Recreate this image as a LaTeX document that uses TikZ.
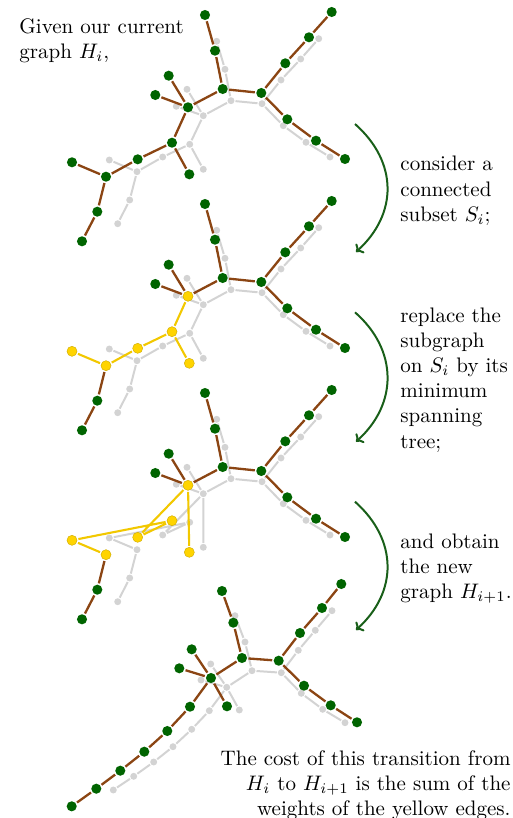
\documentclass[tikz,border=0pt]{standalone}
\usetikzlibrary{arrows.meta}
\definecolor{dgreen}{RGB}{0,100,0}
\definecolor{ebrown}{RGB}{139,69,19}
\definecolor{lgray}{RGB}{211,211,211}
\definecolor{gold}{RGB}{255,212,0}
\definecolor{goldedge}{RGB}{242,200,0}
\definecolor{arrgreen}{RGB}{25,95,25}
\pgfdeclarelayer{bg}
\pgfsetlayers{bg,main}
\tikzset{
 gn/.style={circle,fill=lgray,inner sep=0pt,minimum size=3.3pt,outer sep=0.5pt},
 vn/.style={circle,fill=dgreen,inner sep=0pt,minimum size=4.8pt,outer sep=0.7pt},
 yn/.style={circle,fill=gold,draw=goldedge!85!black,line width=0.2pt,inner sep=0pt,minimum size=4.8pt,outer sep=0.7pt},
 ge/.style={draw=lgray,line width=0.95pt},
 be/.style={draw=ebrown,line width=1.1pt},
 ye/.style={draw=goldedge,line width=1.0pt},
 flow/.style={draw=arrgreen,line width=0.95pt,-{Computer Modern Rightarrow[length=3pt,width=6pt]}},
 txt/.style={inner sep=0pt,align=left},
}
\newcommand\panelbase[1]{%
 \begin{pgfonlayer}{bg}
  \node[gn] (g1) at (216.7,41.3) {};
  \node[gn] (g2) at (225,69.3) {};
  \node[gn] (g3) at (231,100.7) {};
  \node[gn] (g4) at (262,103.7) {};
  \node[gn] (g5) at (281,80) {};
  \node[gn] (g6) at (300.7,59) {};
  \node[gn] (g7) at (318.7,38.7) {};
  \node[gn] (g8) at (283.3,125.7) {};
  \node[gn] (g9) at (306,142.3) {};
  \node[gn] (g10) at (330,157) {};
  \node[gn] (g11) at (187,89.3) {};
  \node[gn] (g12) at (176.3,106.3) {};
  \node[gn] (g13) at (203.3,115.7) {};
  \node[gn] (g14) at (189.7,144.3) {};
  \node[gn] (g15) at (203.3,169.3) {};
  \node[gn] (g16) at (162.7,157) {};
  \node[gn] (g17) at (137,171.7) {};
  \node[gn] (g18) at (109.3,160) {};
  \node[gn] (g19) at (129.7,200) {};
  \node[gn] (g20) at (117.7,223.7) {};
  \path[ge] (g1)--(g2) (g2)--(g3) (g3)--(g4) (g4)--(g5) (g5)--(g6) (g6)--(g7)
   (g4)--(g8) (g8)--(g9) (g9)--(g10) (g3)--(g13) (g11)--(g13) (g12)--(g13)
   (g17)--(g19) (g19)--(g20);
 \end{pgfonlayer}
 \node[vn] (A) at (205,15) {};
 \node[vn] (B) at (215,50.7) {};
 \node[vn] (C) at (222.7,89) {};
 \node[vn] (D) at (261.3,93) {};
 \node[vn] (E) at (285.3,63.3) {};
 \node[vn] (F) at (309,37.3) {};
 \node[vn] (G) at (331.7,12) {};
 \node[vn] (H) at (287.3,119.3) {};
 \node[vn] (I) at (316,140.7) {};
 \node[vn] (J) at (345,159) {};
 \node[vn] (K) at (168.7,75.7) {};
 \node[vn] (L) at (155.3,95) {};
 \node[vn] (S) at (97.3,211.7) {};
 \node[vn] (T) at (82,241.3) {};
 \node[#1] (M) at (188,107.3) {};
 \node[#1] (N) at (172,142.7) {};
 \node[#1] (O) at (189.3,174.3) {};
 \node[#1] (P) at (137.7,159.3) {};
 \node[#1] (Q) at (106,176.7) {};
 \node[#1] (R) at (72,162.3) {};
 \path[be] (A)--(B) (B)--(C) (C)--(D) (D)--(E) (E)--(F) (F)--(G) (D)--(H) (H)--(I) (I)--(J)
   (C)--(M) (K)--(M) (L)--(M) (Q)--(S) (S)--(T);
}
\begin{document}
\begin{tikzpicture}[x=0.476pt,y=-0.476pt]
\path[use as bounding box] (0,0) rectangle (513,818);

% panel 1
\begin{scope}[name prefix=p1-]
 \panelbase{vn}
 \begin{pgfonlayer}{bg}
  \path[ge] (g13)--(g14) (g14)--(g15) (g14)--(g16) (g16)--(g17) (g18)--(g17);
 \end{pgfonlayer}
 \path[be] (M)--(N) (N)--(O) (N)--(P) (P)--(Q) (R)--(Q);
\end{scope}

% panel 2
\begin{scope}[shift={(0,189)},name prefix=p2-]
 \panelbase{yn}
 \begin{pgfonlayer}{bg}
  \path[ge] (g13)--(g14) (g14)--(g15) (g14)--(g16) (g16)--(g17) (g18)--(g17);
 \end{pgfonlayer}
 \path[ye] (M)--(N) (N)--(O) (N)--(P) (P)--(Q) (R)--(Q);
\end{scope}

% panel 3
\begin{scope}[shift={(0,378)},name prefix=p3-]
 \panelbase{yn}
 \begin{pgfonlayer}{bg}
  \path[ge] (g13)--(g15) (g13)--(g16) (g16)--(g14) (g14)--(g18) (g18)--(g17);
 \end{pgfonlayer}
 \path[ye] (M)--(O) (M)--(P) (P)--(N) (N)--(R) (R)--(Q);
\end{scope}

% panel 4
\begin{scope}[name prefix=p4-]
 \begin{pgfonlayer}{bg}
  \node[gn] (G1) at (235,615.7) {};
  \node[gn] (G2) at (245,642) {};
  \node[gn] (G3) at (252,670.7) {};
  \node[gn] (G4) at (281.3,672.7) {};
  \node[gn] (G5) at (298.3,650.3) {};
  \node[gn] (G6) at (315.3,630.3) {};
  \node[gn] (G7) at (332,610.7) {};
  \node[gn] (G8) at (301.3,693.3) {};
  \node[gn] (G9) at (322.7,709.3) {};
  \node[gn] (G10) at (345,722.7) {};
  \node[gn] (G11) at (210.7,664) {};
  \node[gn] (G12) at (201,680) {};
  \node[gn] (G13) at (226.7,687.3) {};
  \node[gn] (G14) at (239.3,710) {};
  \node[gn] (G15) at (209.3,710.7) {};
  \node[gn] (G16) at (191.7,729.3) {};
  \node[gn] (G17) at (173,746.7) {};
  \node[gn] (G18) at (153.7,762) {};
  \node[gn] (G19) at (133.7,776.3) {};
  \node[gn] (G20) at (113.3,790) {};
  \path[ge] (G1)--(G2) (G2)--(G3) (G3)--(G4) (G4)--(G5) (G5)--(G6) (G6)--(G7)
   (G4)--(G8) (G8)--(G9) (G9)--(G10) (G3)--(G13) (G11)--(G13) (G12)--(G13)
   (G13)--(G14) (G13)--(G15) (G15)--(G16) (G16)--(G17) (G17)--(G18) (G18)--(G19) (G19)--(G20);
 \end{pgfonlayer}
 \node[vn] (a) at (222,591) {};
 \node[vn] (b) at (233.3,622.7) {};
 \node[vn] (c) at (242,658) {};
 \node[vn] (d) at (278.7,660.7) {};
 \node[vn] (e) at (300,633) {};
 \node[vn] (f) at (322,608) {};
 \node[vn] (g) at (341.3,584) {};
 \node[vn] (h) at (304,685.7) {};
 \node[vn] (i) at (330.7,705.3) {};
 \node[vn] (j) at (357,722.3) {};
 \node[vn] (k) at (191.7,649.3) {};
 \node[vn] (l) at (179.3,668.3) {};
 \node[vn] (m) at (211,678) {};
 \node[vn] (n) at (227,706.3) {};
 \node[vn] (o) at (190,706.7) {};
 \node[vn] (p) at (167.3,731) {};
 \node[vn] (q) at (144.3,751.7) {};
 \node[vn] (r) at (120.3,770.7) {};
 \node[vn] (s) at (96.3,788.7) {};
 \node[vn] (t) at (71.7,806.3) {};
 \path[be] (a)--(b) (b)--(c) (c)--(d) (d)--(e) (e)--(f) (f)--(g) (d)--(h) (h)--(i) (i)--(j)
   (c)--(m) (k)--(m) (l)--(m) (m)--(n) (m)--(o) (o)--(p) (p)--(q) (q)--(r) (r)--(s) (s)--(t);
\end{scope}

% arrows
\coordinate (a1s) at (355,124); \coordinate (a1e) at (356,252);
\coordinate (a2s) at (355,312.3); \coordinate (a2e) at (356,441.7);
\coordinate (a3s) at (355,501.7); \coordinate (a3e) at (356,630);
\draw[flow] (a1s) .. controls (398,162) and (398,214) .. (a1e);
\draw[flow] (a2s) .. controls (398,350) and (398,404) .. (a2e);
\draw[flow] (a3s) .. controls (398,540) and (398,592) .. (a3e);

% texts
\node[txt,anchor=north west] (t0) at (19,18) {Given our current\\graph $H_i$,};
\node[txt,anchor=north west] (t1) at (400,156) {consider a\\connected\\subset $S_i$;};
\node[txt,anchor=north west] (t2) at (400,307) {replace the\\subgraph\\on $S_i$ by its\\minimum\\spanning\\tree;};
\node[txt,anchor=north west] (t3) at (400,533) {and obtain\\the new\\graph $H_{i+1}$.};
\node[txt,align=right,anchor=north east] (t4) at (511,750) {The cost of this transition from\\$H_i$ to $H_{i+1}$ is the sum of the\\weights of the yellow edges.};
\end{tikzpicture}
\end{document}
